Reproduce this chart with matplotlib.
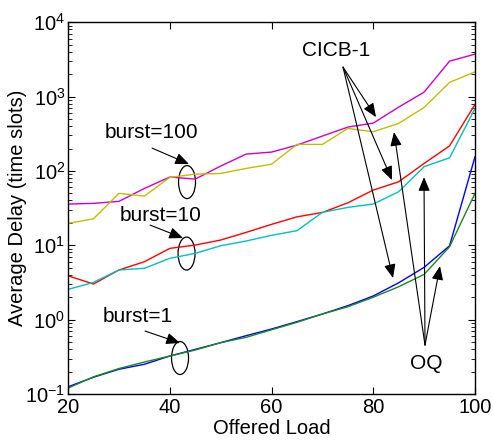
import numpy as np
import matplotlib.pyplot as plt
from matplotlib.patches import Ellipse

plt.rcParams.update({
    "font.family": "Liberation Sans",
    "mathtext.fontset": "custom",
    "mathtext.rm": "Liberation Sans",
    "mathtext.it": "Liberation Sans",
    "font.size": 14.5,
    "xtick.direction": "in",
    "ytick.direction": "in",
})

# offered load (%)
load = [20, 25, 30, 35, 40, 45, 50, 55, 60, 65, 70, 75, 80, 85, 90, 95, 100]

# burst=100
cicb_b100 = [35.8, 36.6, 38.9, 58, 82.7, 77.6, 116, 168, 179, 222, 294, 388, 439, 720, 1146, 2990, 3715]
oq_b100 = [19.7, 22.7, 49.9, 45.8, 81.7, 90.5, 92.4, 108, 123, 227, 227, 372, 336, 435, 713, 1549, 2147]
# burst=10
cicb_b10 = [3.89, 3.01, 4.65, 6.0, 9.08, 10.07, 11.75, 14.9, 19.1, 24.1, 27.6, 37.2, 55.2, 71.4, 126, 217, 783]
oq_b10 = [2.55, 3.17, 4.65, 4.9, 6.67, 7.78, 9.85, 11.4, 13.6, 15.7, 27.7, 32.3, 35.8, 52.5, 114, 150, 692]
# burst=1
cicb_b1 = [0.125, 0.168, 0.215, 0.251, 0.324, 0.398, 0.49, 0.608, 0.748, 0.94, 1.19, 1.54, 2.08, 3.13, 5.05, 9.84, 155]
oq_b1 = [0.12, 0.17, 0.22, 0.269, 0.324, 0.39, 0.49, 0.578, 0.73, 0.92, 1.19, 1.49, 2.0, 2.77, 4.06, 9.55, 49.9]

series = [
    (cicb_b100, "#cc00cc"),
    (oq_b100, "#bfbf00"),
    (cicb_b10, "#ff0000"),
    (oq_b10, "#00c0c0"),
    (cicb_b1, "#0000ff"),
    (oq_b1, "#1a8a1a"),
]

fig = plt.figure(figsize=(4.93, 4.43), dpi=100)
ax = fig.add_axes([0.138, 0.1106, 0.8255, 0.8394])

for vals, col in series:
    ax.plot(load, vals, color=col, lw=1.0)

ax.set_yscale("log")
ax.set_xlim(20, 100)
ax.set_ylim(0.1, 1e4)
ax.set_xticks([20, 40, 60, 80, 100])
ax.set_yticks([1e-1, 1e0, 1e1, 1e2, 1e3, 1e4])
ax.tick_params(which="both", top=True, right=True)
ax.tick_params(axis="x", pad=3)
ax.tick_params(axis="y", pad=2)
ax.tick_params(which="major", length=5, width=0.8)
ax.tick_params(which="minor", length=3, width=0.6)
ax.tick_params(axis="x", which="minor", bottom=False, top=False)
for s in ax.spines.values():
    s.set_linewidth(1.0)

ax.set_xlabel("Offered Load", labelpad=1)
ax.set_ylabel("Average Delay (time slots)", labelpad=-1)

# annotations (axes fraction)
arrow = dict(arrowstyle="-|>,head_length=0.6,head_width=0.25", color="k",
             lw=0.8, shrinkA=0, shrinkB=0, mutation_scale=14)

ellipses = [(0.2924, 0.5699), (0.2912, 0.3777), (0.2752, 0.0968)]
for cx, cy in ellipses:
    ax.add_patch(Ellipse((cx, cy), 0.0418, 0.0887, transform=ax.transAxes,
                         fill=False, ec="k", lw=0.9))

labels = [
    ("burst=100", (0.204, 0.702), (0.2064, 0.6613), [(0.2973, 0.6183)]),
    ("burst=10", (0.2285, 0.4812), (0.2015, 0.4543), [(0.2826, 0.4194)]),
    ("burst=1", (0.172, 0.2097), (0.1892, 0.1694), [(0.2752, 0.1371)]),
    ("CICB-1", (0.6585, 0.9247), (0.6757, 0.879),
     [(0.7568, 0.7446), (0.7961, 0.5753), (0.7985, 0.3118)]),
    ("OQ", (0.8796, 0.0833), (0.8771, 0.1317),
     [(0.801, 0.7043), (0.8747, 0.5833), (0.914, 0.3441)]),
]
for txt, pos, tail, heads in labels:
    ax.text(pos[0], pos[1], txt, transform=ax.transAxes, ha="center", va="center",
            fontsize=15)
    for h in heads:
        ax.annotate("", xy=h, xytext=tail, xycoords="axes fraction",
                    textcoords="axes fraction", arrowprops=arrow)

fig.savefig("out.png", dpi=100)
